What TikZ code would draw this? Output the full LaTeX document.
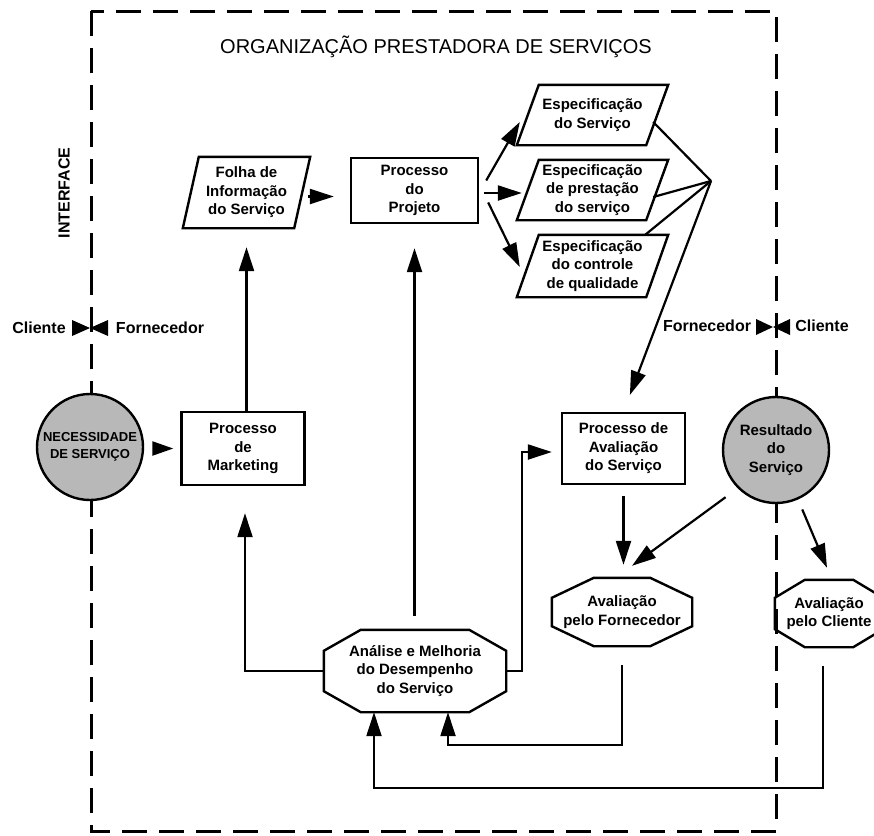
\documentclass[tikz,border=0pt]{standalone}
\usepackage{fontspec}
\setmainfont{Liberation Sans}
\usetikzlibrary{arrows.meta,calc}

\tikzset{
  frame/.style={line width=3pt, dash pattern=on 25pt off 12pt},
  boxtext/.style={font=\fontsize{15}{18.5}\selectfont\bfseries, align=center, inner sep=0pt},
  procbox/.style={boxtext, draw, line width=2.4pt},
  shapetext/.style={boxtext, draw=none},
  arr/.style={line width=2.2pt, -{Triangle[length=24pt,width=15pt]}},
  arrshort/.style={line width=2.2pt, -{Triangle[length=21pt,width=14pt]}},
  conn/.style={line width=2.2pt},
  disc/.style={circle, draw, line width=2.4pt, fill=black!28, minimum size=106pt, inner sep=0pt, align=center, font=\fontsize{15}{18.5}\selectfont\bfseries},
  lbl/.style={font=\fontsize{16}{19}\selectfont\bfseries, inner sep=0pt},
  outline/.style={line width=2.4pt},
}

\newcommand\parabox[2]{%
  \draw[outline] ($(#1.south west)+(-#2,0)$) -- ($(#1.north west)+(#2,0)$) -- ($(#1.north east)+(#2,0)$) -- ($(#1.south east)+(-#2,0)$) -- cycle;}
\newcommand\octbox[3]{%
  \draw[outline] ($(#1.north west)+(#2,0)$) -- ($(#1.north east)+(-#2,0)$) -- ($(#1.north east)+(0,#3)$) -- ($(#1.south east)+(0,-#3)$) -- ($(#1.south east)+(-#2,0)$) -- ($(#1.south west)+(#2,0)$) -- ($(#1.south west)+(0,-#3)$) -- ($(#1.north west)+(0,#3)$) -- cycle;}

\begin{document}
\begin{tikzpicture}[x=1pt,y=-1pt]
\useasboundingbox (0,0) rectangle (874,835);

% frame
\draw[frame] (91,11) rectangle (776,831);

% title and interface labels
\node[font=\fontsize{20}{24}\selectfont] (title) at (436,47) {ORGANIZAÇÃO PRESTADORA DE SERVIÇOS};
\node[lbl, rotate=90] (iface) at (64,193) {INTERFACE};
\node[lbl] (cliL) at (39,328) {Cliente};
\node[lbl] (fornL) at (160,328) {Fornecedor};
\node[lbl] (fornR) at (707,326) {Fornecedor};
\node[lbl] (cliR) at (822,326) {Cliente};

% bowties
\fill (72,320) -- (90,328) -- (72,336) -- cycle;
\fill (108,320) -- (90,328) -- (108,336) -- cycle;
\fill (756,319) -- (773,327) -- (756,335) -- cycle;
\fill (790,319) -- (773,327) -- (790,335) -- cycle;

% discs
\node[disc, font=\fontsize{13}{16.5}\selectfont\bfseries] (nec) at (90,447) {NECESSIDADE\\DE SERVIÇO};
\node[disc] (res) at (776,450) {Resultado\\do\\Serviço};

% process boxes
\node[procbox, minimum width=123pt, minimum height=73pt] (mkt) at (243,448.5) {Processo\\de\\Marketing};
\node[procbox, minimum width=127pt, minimum height=65pt] (proj) at (414.5,190.5) {Processo\\do\\Projeto};
\node[procbox, minimum width=123pt, minimum height=71pt] (aval) at (623.5,448.5) {Processo de\\Avaliação\\do Serviço};

% parallelograms
\node[shapetext, minimum width=111pt, minimum height=71pt] (folha) at (246.5,192.5) {Folha de\\Informação\\do Serviço};
\parabox{folha}{8}
\node[shapetext, minimum width=129pt, minimum height=60pt] (spec1) at (592.5,115) {Especificação\\do Serviço};
\parabox{spec1}{11}
\node[shapetext, minimum width=129pt, minimum height=60pt] (spec2) at (592.5,190) {Especificação\\de prestação\\do serviço};
\parabox{spec2}{11}
\node[shapetext, minimum width=129pt, minimum height=62pt] (spec3) at (592.5,266) {Especificação\\do controle\\de qualidade};
\parabox{spec3}{11}

% octagons
\node[shapetext, minimum width=182pt, minimum height=82pt] (anal) at (415,671) {Análise e Melhoria\\do Desempenho\\do Serviço};
\octbox{anal}{37}{21}
\node[shapetext, minimum width=140pt, minimum height=68pt] (avforn) at (622,612) {Avaliação\\pelo Fornecedor};
\octbox{avforn}{42}{20}
\node[shapetext, minimum width=108pt, minimum height=67pt] (avcli) at (829,613.5) {Avaliação\\pelo Cliente};
\octbox{avcli}{30}{18}

% connectors
\draw[arrshort, shorten <=10pt, shorten >=7pt] (nec.east |- mkt.west) -- (mkt.west);
\draw[arr, shorten >=19pt] (mkt.north -| folha.south) -- (folha.south);
\draw[arr, shorten <=6pt, shorten >=16pt] ($(folha.east)+(0,4)$) -- ($(folha.east -| proj.west)+(0,4)$);
\draw[arr, shorten <=14pt, shorten >=24pt] (anal.north -| proj.south) -- (proj.south);

\draw[arr] ($(proj.east)+(7,-10)$) -- ($(spec1.west)+(-8,7)$);
\draw[arr] ($(proj.east)+(5,2.5)$) -- ($(proj.east -| spec2.west)+(-6,2.5)$);
\draw[arr] ($(proj.east)+(9,12)$) -- ($(spec3.west)+(-8,1)$);

\coordinate (conv) at (711,181);
\draw[conn] ($(spec1.east)+(-4,7)$) -- (conv);
\draw[conn] ($(spec2.east)+(-4,7)$) -- (conv);
\draw[conn] ($(spec3.north east)+(-12,0)$) -- (conv);
\draw[arr, shorten >=18pt] (conv) -- (aval.north);

\draw[arr, shorten <=11pt, shorten >=13pt] (aval.south) -- (aval.south |- avforn.north);
\draw[arr, shorten >=9pt] (anal.east) -- ++(16,0) |- ($(aval.west)+(0,3.5)$);
\draw[arr, shorten >=27pt] (anal.west) -| ($(mkt.south)+(2,0)$);

\draw[arr, shorten <=15pt] (res.south west) -- ($(avforn.north)+(10,-12)$);
\draw[arr, shorten <=12pt] ($(res.center)+(66:53)$) -- ($(avcli.north)+(-2,-12)$);

\draw[arr, shorten <=19pt] (avforn.south) -- ++(0,99) -| ($(anal.south)+(33,0)$);
\draw[arr, shorten <=19pt] ($(avcli.south)+(-6,0)$) -- ++(0,141) -| ($(anal.south)+(-41,0)$);
\end{tikzpicture}
\end{document}
